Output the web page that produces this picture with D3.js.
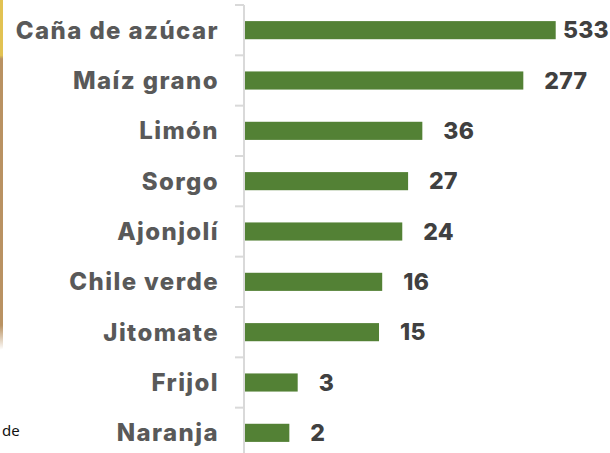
<!DOCTYPE html>
<html>
<head>
<meta charset="utf-8">
<script src="https://cdn.jsdelivr.net/npm/d3@7"></script>
<style>
  body { margin: 0; background: #fff; }
  svg { display: block; }
</style>
</head>
<body>
<script>
const width = 610;
const height = 453;

const cultivos = ["Caña de azúcar", "Maíz grano", "Limón", "Sorgo", "Ajonjolí",
                  "Chile verde", "Jitomate", "Frijol", "Naranja"];
const valores = [533, 277, 36, 27, 24, 16, 15, 2.9, 2.45];

const x = d3.scaleLog().domain([1, 533]).range([245, 555.7]);
const y = d3.scaleBand()
    .domain(cultivos)
    .range([5, 458])
    .paddingInner(0.64)
    .paddingOuter(0.32);

const svg = d3.select("body")
    .append("svg")
    .attr("width", width)
    .attr("height", height);

// franja decorativa del recuadro de la izquierda
const grad = svg.append("defs").append("linearGradient")
    .attr("id", "franja").attr("x1", 0).attr("x2", 0).attr("y1", 0).attr("y2", 1);
grad.append("stop").attr("offset", "0.17").attr("stop-color", "#e2c252");
grad.append("stop").attr("offset", "0.18").attr("stop-color", "#b99262");
grad.append("stop").attr("offset", "0.93").attr("stop-color", "#b99262");
grad.append("stop").attr("offset", "1").attr("stop-color", "#fff");
svg.append("rect")
    .attr("x", -3).attr("y", -5)
    .attr("width", 6).attr("height", 355)
    .attr("rx", 3)
    .attr("fill", "url(#franja)");

svg.append("text")
    .attr("x", 2).attr("y", 436)
    .attr("font-family", "Noto Sans, sans-serif")
    .attr("font-size", 15)
    .attr("fill", "#111")
    .text("de");

// eje vertical con marcas entre categorias
const axis = svg.append("g")
    .attr("stroke", "#d9d9d9")
    .attr("stroke-width", 2);
axis.append("line")
    .attr("x1", 244).attr("x2", 244)
    .attr("y1", y.range()[0]).attr("y2", y.range()[1]);
axis.selectAll("line.tick")
    .data(d3.range(cultivos.length + 1))
    .join("line")
    .attr("class", "tick")
    .attr("x1", 235).attr("x2", 244)
    .attr("y1", i => y.range()[0] + i * y.step())
    .attr("y2", i => y.range()[0] + i * y.step());

svg.append("g")
    .attr("fill", "#538135")
    .selectAll("rect")
    .data(valores)
    .join("rect")
    .attr("x", x(1))
    .attr("y", (d, i) => y(cultivos[i]))
    .attr("width", d => x(d) - x(1))
    .attr("height", y.bandwidth());

svg.append("g")
    .attr("font-family", "Inter, sans-serif")
    .attr("font-weight", 800)
    .attr("font-size", 24)
    .attr("letter-spacing", 1.4)
    .attr("fill", "#595959")
    .attr("text-anchor", "end")
    .selectAll("text")
    .data(cultivos)
    .join("text")
    .attr("x", 219)
    .attr("y", d => y(d) + y.bandwidth() / 2)
    .attr("dy", "0.36em")
    .text(d => d);

const etiquetas = svg.append("g")
    .attr("font-family", "Inter, sans-serif")
    .attr("font-weight", 800)
    .attr("font-size", 23)
    .attr("letter-spacing", 0.3)
    .attr("fill", "#404040")
    .selectAll("text")
    .data(valores)
    .join("text")
    .attr("y", (d, i) => y(cultivos[i]) + y.bandwidth() / 2)
    .attr("dy", "0.36em")
    .text(d => Math.round(d));

etiquetas.attr("x", function(d) {
  const w = this.getComputedTextLength();
  return Math.min(x(d) + 21, 609 - w);
});
</script>
</body>
</html>
